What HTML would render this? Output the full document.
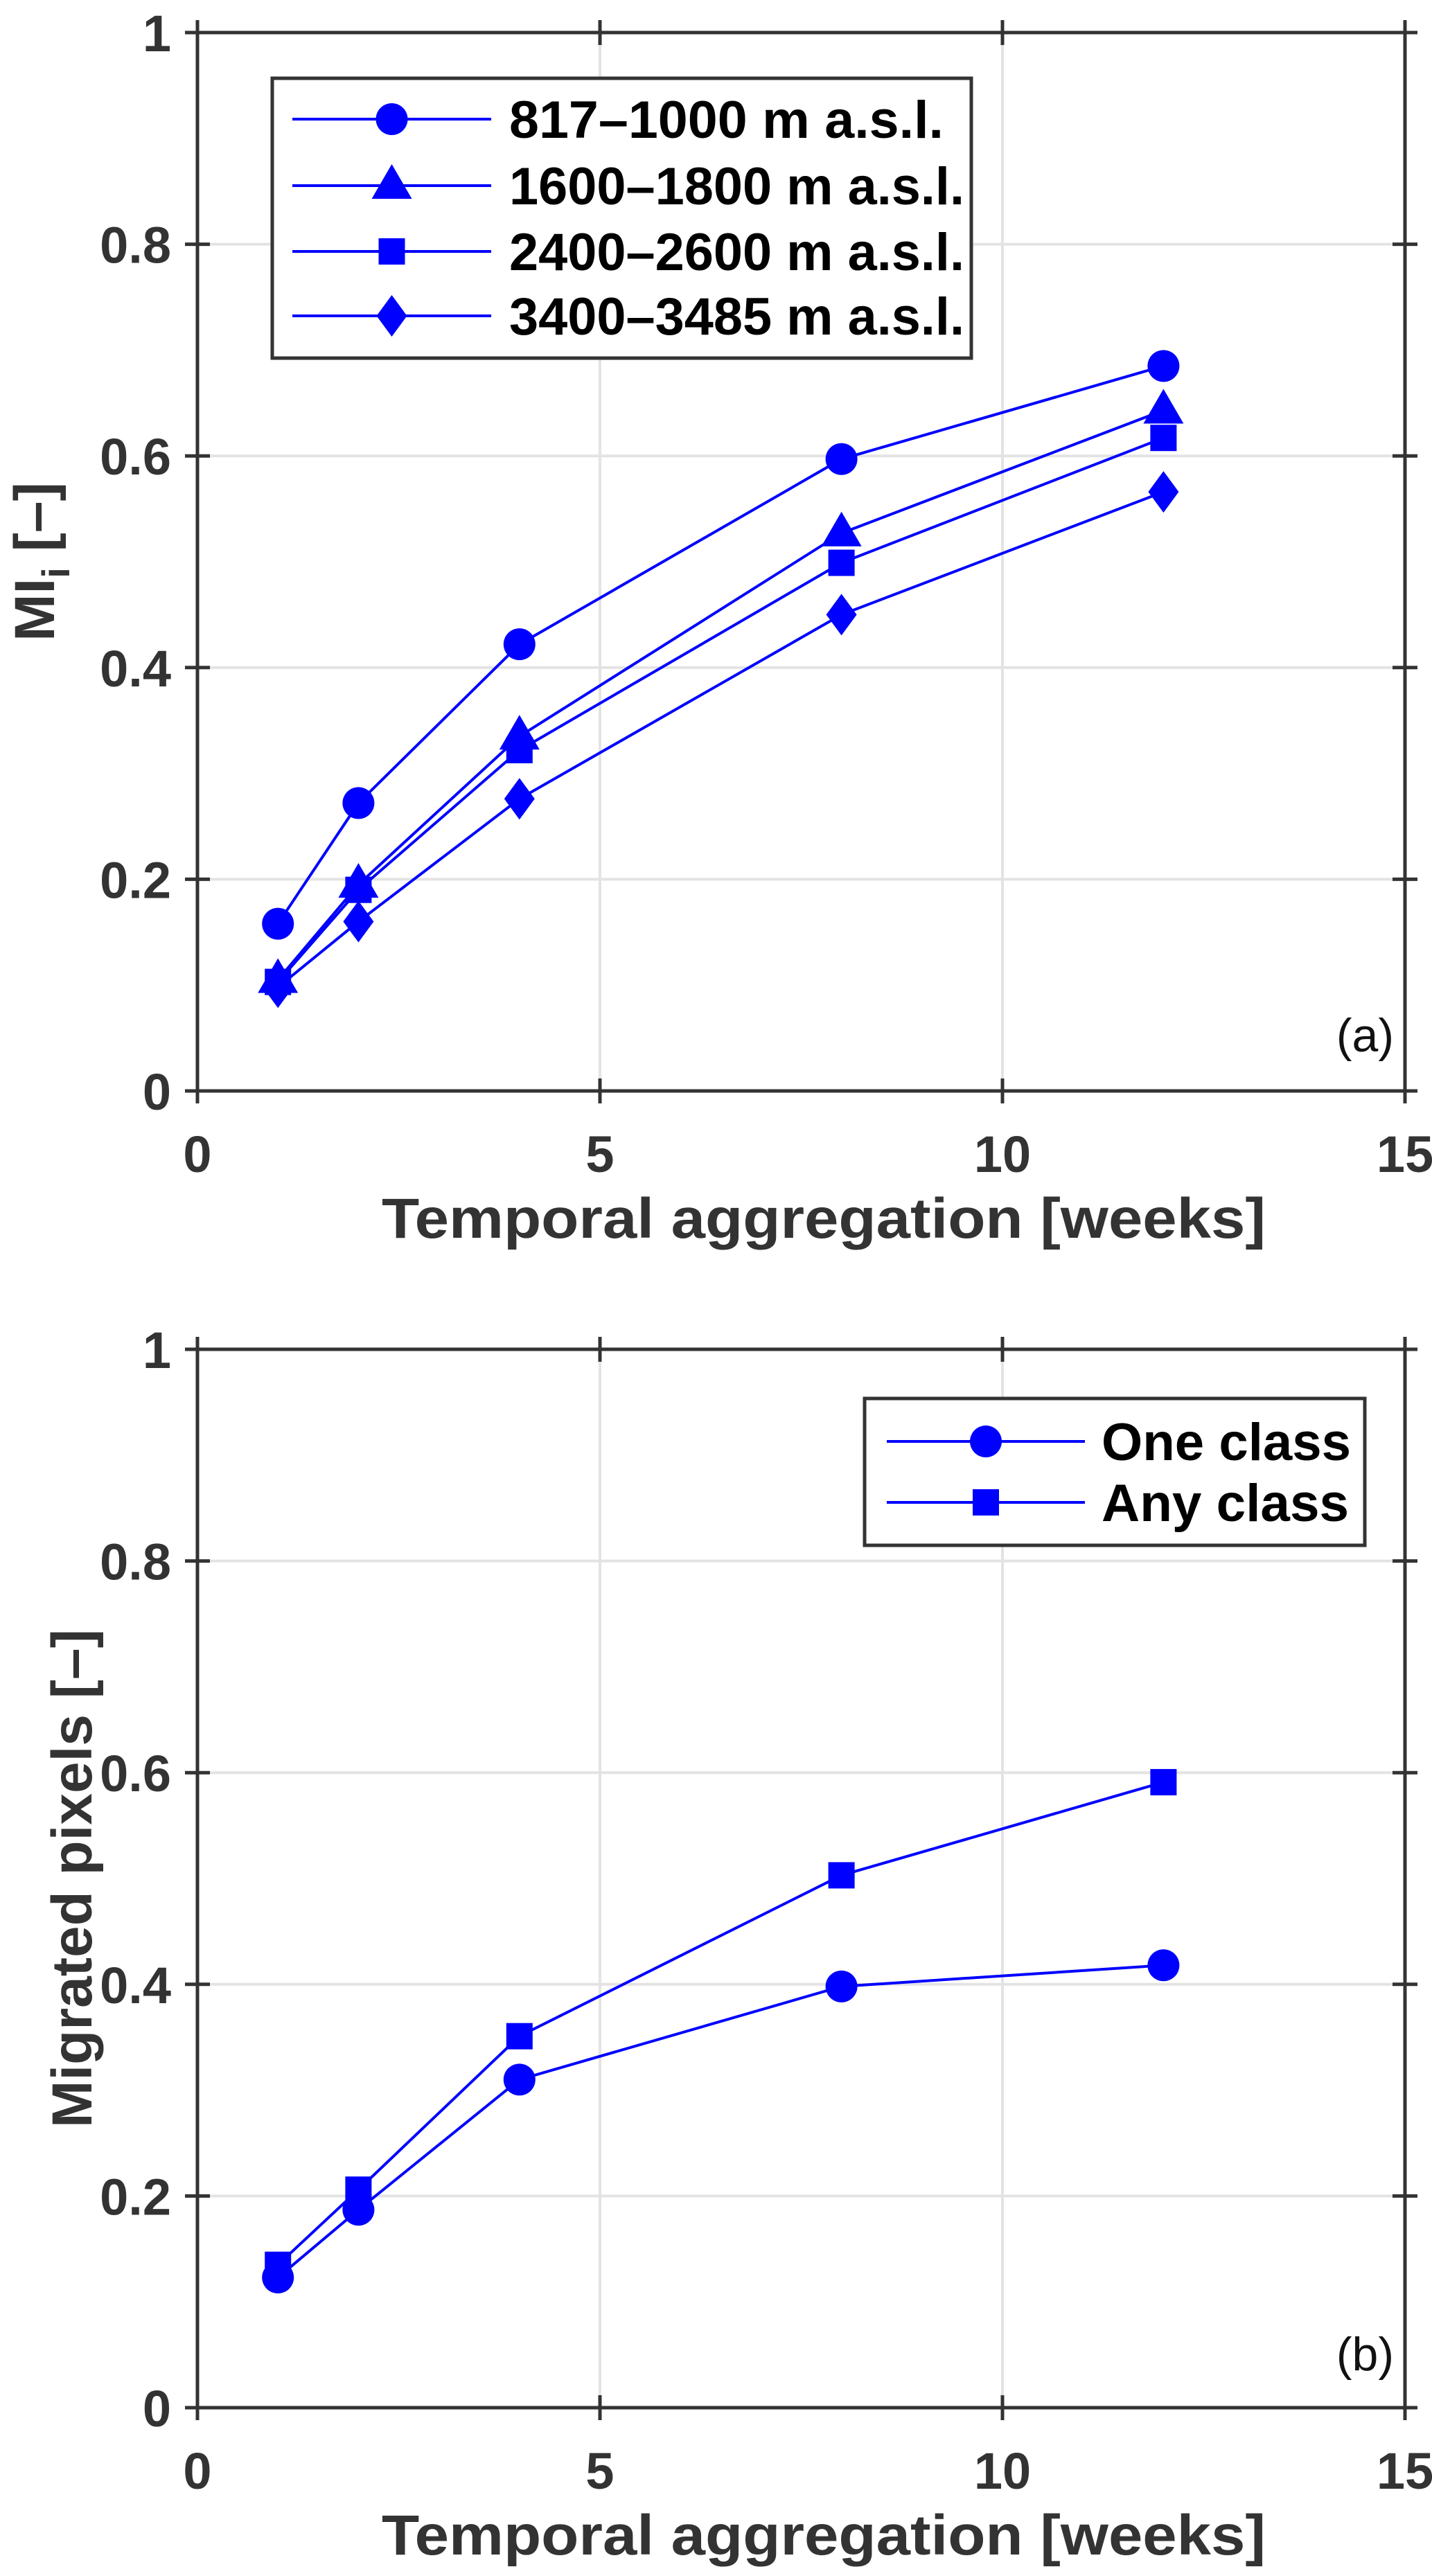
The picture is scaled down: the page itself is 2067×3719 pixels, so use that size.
<!DOCTYPE html>
<html><head><meta charset="utf-8"><style>html,body{margin:0;padding:0;background:#fff}svg{display:block}</style></head>
<body>
<svg id="fig" width="2067" height="3719" viewBox="0 0 2067 3719" xmlns="http://www.w3.org/2000/svg" font-family="Liberation Sans, sans-serif"></svg>
<script>
const weeks = [1, 2, 4, 8, 12];
const s817 = [0.158, 0.272, 0.422, 0.597, 0.685];
const s1600 = [0.105, 0.195, 0.335, 0.527, 0.643];
const s2400 = [0.103, 0.190, 0.322, 0.499, 0.617];
const s3400 = [0.098, 0.160, 0.276, 0.450, 0.566];
const oneClass = [0.123, 0.187, 0.310, 0.398, 0.418];
const anyClass = [0.135, 0.206, 0.351, 0.503, 0.591];
const xTicks = [0, 5, 10, 15];
const yTicks = [0, 0.2, 0.4, 0.6, 0.8, 1];
const yTickLabels = ['0', '0.2', '0.4', '0.6', '0.8', '1'];
const labelsA = ['817–1000 m a.s.l.', '1600–1800 m a.s.l.', '2400–2600 m a.s.l.', '3400–3485 m a.s.l.'];
const labelsB = ['One class', 'Any class'];

const NS = 'http://www.w3.org/2000/svg';
const svg = document.getElementById('fig');
function mk(tag, attrs, parent) {
  const e = document.createElementNS(NS, tag);
  for (const k in attrs) e.setAttribute(k, attrs[k]);
  (parent || svg).appendChild(e);
  return e;
}
const L = 285, R = 2028, H = 1528;
const BLUE = '#0000ff';

function marker(g, type, cx, cy) {
  let m;
  if (type === 'circle') m = mk('circle', {cx: cx, cy: cy, r: 23, fill: BLUE}, g);
  else if (type === 'triangle') m = mk('polygon', {points: `${cx},${cy-31} ${cx-29},${cy+19} ${cx+29},${cy+19}`, fill: BLUE}, g);
  else if (type === 'square') m = mk('rect', {x: cx-19, y: cy-19, width: 38, height: 38, fill: BLUE}, g);
  else m = mk('polygon', {points: `${cx},${cy-30} ${cx+22},${cy} ${cx},${cy+30} ${cx-22},${cy}`, fill: BLUE}, g);
  
  
  return m;
}

function panel(name, top, series, types, names, ylabel, tag, legend) {
  const bot = top + H;
  const xs = v => L + (v - 0) / 15 * (R - L);
  const ys = v => bot - v * H;
  const g = mk('g', {});
  
  
  xTicks.forEach(t => { if (t > 0 && t < 15) { const l = mk('line', {x1: xs(t), x2: xs(t), y1: top, y2: bot, stroke: '#e3e3e3', 'stroke-width': 4}, g);   } });
  yTicks.forEach(t => { if (t > 0 && t < 1) { const l = mk('line', {x1: L, x2: R, y1: ys(t), y2: ys(t), stroke: '#e3e3e3', 'stroke-width': 4}, g);   } });
  const box = mk('rect', {x: L, y: top, width: R - L, height: H, fill: 'none', stroke: '#333', 'stroke-width': 5}, g);
  
  
  xTicks.forEach(t => {
    mk('line', {x1: xs(t), x2: xs(t), y1: bot - 18, y2: bot + 18, stroke: '#333', 'stroke-width': 5}, g);
    mk('line', {x1: xs(t), x2: xs(t), y1: top - 18, y2: top + 18, stroke: '#333', 'stroke-width': 5}, g);
    const tx = mk('text', {x: xs(t), y: bot + 117, 'text-anchor': 'middle', 'font-size': 74, 'font-weight': 'bold', fill: '#333'}, g);
    tx.textContent = String(t);
    
    
  });
  yTicks.forEach((t, i) => {
    mk('line', {x1: L - 18, x2: L + 18, y1: ys(t), y2: ys(t), stroke: '#333', 'stroke-width': 5}, g);
    mk('line', {x1: R - 18, x2: R + 18, y1: ys(t), y2: ys(t), stroke: '#333', 'stroke-width': 5}, g);
    const tx = mk('text', {x: 247, y: ys(t) + 27, 'text-anchor': 'end', 'font-size': 74, 'font-weight': 'bold', fill: '#333'}, g);
    tx.textContent = yTickLabels[i];
    
    
  });
  const xt = mk('text', {x: 1189, y: bot + 212, 'text-anchor': 'middle', 'font-size': 82, 'font-weight': 'bold', fill: '#333', textLength: 1276, lengthAdjust: 'spacingAndGlyphs'}, g);
  xt.textContent = 'Temporal aggregation [weeks]';
  
  
  const yt = mk('text', {x: 0, y: 0, 'text-anchor': 'middle', 'font-size': 82, 'font-weight': 'bold', fill: '#333', transform: `translate(${ylabel.x},${top + H / 2}) rotate(-90)`}, g);
  
  
  if (ylabel.sub) {
    yt.appendChild(document.createTextNode('MI'));
    const s = mk('tspan', {'font-size': 56, dy: 22}, yt); s.textContent = 'i';
    const s2 = mk('tspan', {dy: -22}, yt); s2.textContent = ' [–]';
  } else yt.textContent = ylabel.text;
  series.forEach((vals, si) => {
    const sg = mk('g', {}, g);
    
    
    mk('polyline', {points: vals.map((v, i) => xs(weeks[i]) + ',' + ys(v)).join(' '), fill: 'none', stroke: BLUE, 'stroke-width': 4}, sg);
    vals.forEach((v, i) => marker(sg, types[si], xs(weeks[i]), ys(v)));
  });
  const pt = mk('text', {x: 2012, y: tag.y, 'text-anchor': 'end', 'font-size': 68, fill: '#111'}, g);
  pt.textContent = tag.text;
  
  
  const lg = mk('g', {}, g);
  
  
  mk('rect', {x: legend.x, y: legend.y, width: legend.w, height: legend.h, fill: '#fff', stroke: '#333', 'stroke-width': 5}, lg);
  legend.labels.forEach((lab, i) => {
    const ry = legend.rows[i];
    const eg = mk('g', {}, lg);
    
    
    mk('line', {x1: legend.l1, x2: legend.l2, y1: ry, y2: ry, stroke: BLUE, 'stroke-width': 4}, eg);
    marker(eg, types[i], (legend.l1 + legend.l2) / 2, ry);
    const t = mk('text', {x: legend.tx, y: ry + 27, 'font-size': 76, 'font-weight': 'bold', fill: '#000', textLength: legend.tw[i], lengthAdjust: 'spacingAndGlyphs'}, eg);
    t.textContent = lab;
  });
}

panel('panel-a', 47, [s817, s1600, s2400, s3400], ['circle', 'triangle', 'square', 'diamond'],
  ['series-817-1000', 'series-1600-1800', 'series-2400-2600', 'series-3400-3485'],
  {x: 78, sub: true}, {text: '(a)', y: 1518},
  {x: 393, y: 113, w: 1009, h: 404, rows: [172, 268, 363, 456], l1: 422, l2: 709, tx: 735, labels: labelsA, tw: [627, 657, 657, 657]});
panel('panel-b', 1948, [oneClass, anyClass], ['circle', 'square'],
  ['series-one-class', 'series-any-class'],
  {x: 132, text: 'Migrated pixels [–]'}, {text: '(b)', y: 3422},
  {x: 1248, y: 2019, w: 722, h: 212, rows: [2081, 2169], l1: 1280, l2: 1566, tx: 1590, labels: labelsB, tw: [360, 357]});
</script>
</body></html>
